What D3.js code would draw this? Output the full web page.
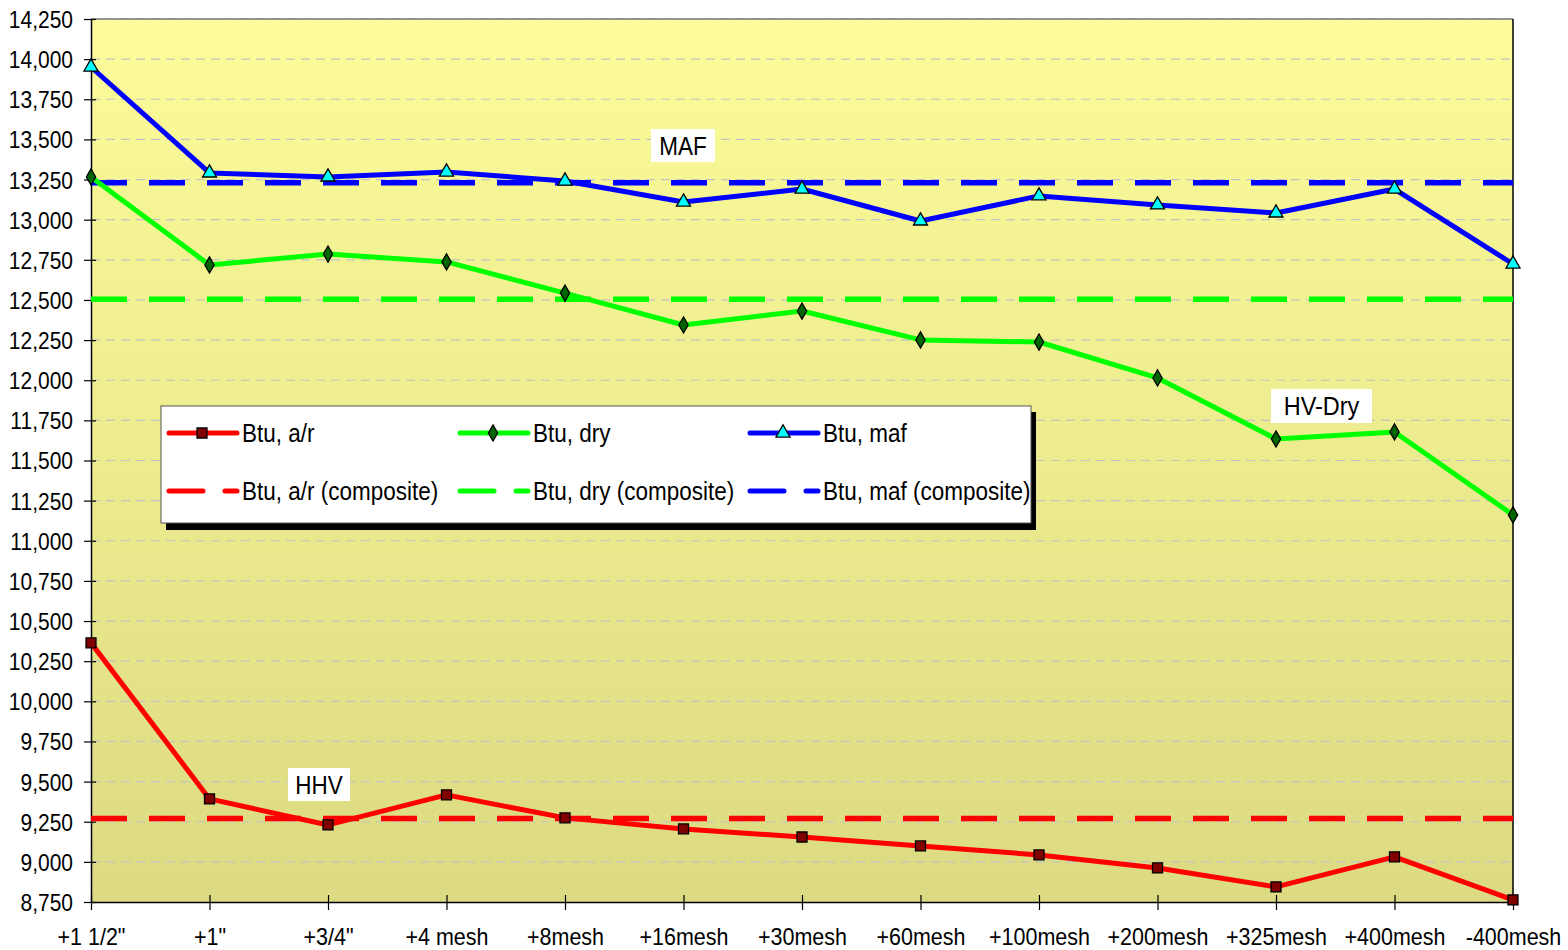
<!DOCTYPE html>
<html><head><meta charset="utf-8">
<script src="https://cdn.jsdelivr.net/npm/d3@7"></script>
<style>html,body{margin:0;padding:0;background:#fff;}svg{display:block;font-family:"Liberation Sans",Arial,sans-serif;}</style>
</head><body>
<svg id="c" width="1568" height="950"></svg>
<script>
const categories = ['+1 1/2"','+1"','+3/4"','+4 mesh','+8mesh','+16mesh','+30mesh','+60mesh','+100mesh','+200mesh','+325mesh','+400mesh','-400mesh'];
const btuAr  = [10364, 9392, 9230, 9417, 9274, 9205, 9155, 9099, 9043, 8962, 8844, 9031, 8763];
const btuDry = [13266, 12718, 12786, 12737, 12543, 12344, 12431, 12251, 12238, 12014, 11634, 11678, 11161];
const btuMaf = [13951, 13291, 13266, 13297, 13241, 13110, 13191, 12992, 13148, 13092, 13042, 13191, 12724];
const btuArComp  = [9270, 9270, 9270, 9270, 9270, 9270, 9270, 9270, 9270, 9270, 9270, 9270, 9270];
const btuDryComp = [12505, 12505, 12505, 12505, 12505, 12505, 12505, 12505, 12505, 12505, 12505, 12505, 12505];
const btuMafComp = [13230, 13230, 13230, 13230, 13230, 13230, 13230, 13230, 13230, 13230, 13230, 13230, 13230];
const yTicks = d3.range(8750, 14251, 250);
const seriesNames = ["Btu, a/r","Btu, dry","Btu, maf","Btu, a/r (composite)","Btu, dry (composite)","Btu, maf (composite)"];

const L = 91, R = 1513, T = 19, B = 902;
const SY = 1.12; // vertical stretch of the text
const svg = d3.select("#c");
const x = d3.scalePoint().domain(categories).range([L, R]).padding(0);
const y = d3.scaleLinear().domain([8750, 14250]).range([B, T]);

// background gradient
const defs = svg.append("defs");
const g = defs.append("linearGradient").attr("id","bg").attr("x1",0).attr("y1",0).attr("x2",0).attr("y2",1);
g.append("stop").attr("offset","0%").attr("stop-color","#fcfc9a");
g.append("stop").attr("offset","100%").attr("stop-color","#dcda82");
svg.append("rect").attr("x",L).attr("y",T).attr("width",R-L).attr("height",B-T).attr("fill","url(#bg)");

// gridlines
svg.append("g").selectAll("line").data(yTicks.slice(1)).join("line")
  .attr("x1",L).attr("x2",R).attr("y1",d=>y(d)).attr("y2",d=>y(d))
  .attr("stroke","#c4c4c4").attr("stroke-width",1.2).attr("stroke-dasharray","9,6");

// frame
svg.append("line").attr("x1",L).attr("x2",R).attr("y1",T).attr("y2",T).attr("stroke","#777").attr("stroke-width",1.5);
svg.append("line").attr("x1",R).attr("x2",R).attr("y1",T).attr("y2",B).attr("stroke","#000").attr("stroke-width",1.5);

// axes
const yAxis = svg.append("g").attr("transform",`translate(${L},0)`)
  .call(d3.axisLeft(y).tickValues(yTicks).tickFormat(d3.format(",")).tickSize(7).tickSizeOuter(0));
yAxis.select(".domain").attr("stroke","#000").attr("stroke-width",1.5);
yAxis.selectAll(".tick line").attr("stroke","#000").attr("stroke-width",1.2).attr("x2",5).attr("x1",-7);
yAxis.selectAll(".tick text").attr("font-size",21).attr("fill","#000").attr("x",0).attr("y",0).attr("dy","0.36em")
  .attr("transform",`translate(-18,0) scale(1,${SY})`)
  .attr("font-family","Liberation Sans, Arial, sans-serif");

const xAxis = svg.append("g").attr("transform",`translate(0,${B})`)
  .call(d3.axisBottom(x).tickSize(8).tickSizeOuter(0));
xAxis.select(".domain").attr("stroke","#000").attr("stroke-width",1.5);
xAxis.selectAll(".tick line").attr("stroke","#000").attr("stroke-width",1.2).attr("y1",-7).attr("y2",8);
xAxis.selectAll(".tick text").attr("font-size",21.5).attr("fill","#000").attr("y",0).attr("dy","0.71em")
  .attr("transform",`translate(0,26) scale(1,${SY})`)
  .attr("font-family","Liberation Sans, Arial, sans-serif");

const line = d3.line().x((d,i)=>x(categories[i])).y(d=>y(d));
const plot = svg.append("g");
function dashed(vals, color){
  plot.append("path").attr("d",line(vals)).attr("fill","none").attr("stroke",color)
    .attr("stroke-width",5.5).attr("stroke-dasharray","36,22");
}
function solid(vals, color){
  plot.append("path").attr("d",line(vals)).attr("fill","none").attr("stroke",color)
    .attr("stroke-width",5).attr("stroke-linejoin","round");
}
dashed(btuMafComp,"#0000ff");
dashed(btuDryComp,"#00ff00");
dashed(btuArComp,"#ff0000");
solid(btuMaf,"#0000ff");
solid(btuDry,"#00ff00");
solid(btuAr,"#ff0000");

const sq = d3.symbol().type(d3.symbolSquare).size(100);
const dia = d3.symbol().type(d3.symbolDiamond).size(75);
const tri = d3.symbol().type(d3.symbolTriangle).size(85);
function markers(vals, sym, fill){
  plot.append("g").selectAll("path").data(vals).join("path")
    .attr("d",sym).attr("transform",(d,i)=>`translate(${x(categories[i])},${y(d)})`)
    .attr("fill",fill).attr("stroke","#000").attr("stroke-width",1.3);
}
markers(btuMaf, tri, "#00ffff");
markers(btuDry, dia, "#006400");
markers(btuAr, sq, "#800000");

function stretchedText(parent, txt, tx, ty, size, anchor){
  return parent.append("text").attr("transform",`translate(${tx},${ty}) scale(1,${SY})`)
    .attr("dy","0.36em").attr("text-anchor",anchor).attr("font-size",size).attr("fill","#000").text(txt);
}
// text labels
function label(txt, bx, by, bw, bh, size){
  svg.append("rect").attr("x",bx).attr("y",by).attr("width",bw).attr("height",bh).attr("fill","#fff");
  stretchedText(svg, txt, bx+bw/2, by+bh/2, size, "middle");
}
label("MAF", 651, 129, 64, 33, 22.5);
label("HHV", 288, 768, 62, 33, 22.5);
label("HV-Dry", 1271, 389, 101, 34, 23.5);

// legend
const lg = svg.append("g");
lg.append("rect").attr("x",166).attr("y",412).attr("width",870).attr("height",118).attr("fill","#000");
lg.append("rect").attr("x",161).attr("y",406).attr("width",870).attr("height",117).attr("fill","#fff").attr("stroke","#555").attr("stroke-width",1);
const cols = [167, 458, 748];
const rows = [433, 491];
const colors = ["#ff0000","#00ff00","#0000ff"];
const syms = [sq, dia, tri];
const fills = ["#800000","#006400","#00ffff"];
seriesNames.forEach((nm, k)=>{
  const c = k % 3, r = Math.floor(k/3);
  const x0 = cols[c], yy = rows[r];
  const ln = lg.append("line").attr("x1",x0+2).attr("x2",x0+70).attr("y1",yy).attr("y2",yy)
    .attr("stroke",colors[c]).attr("stroke-width",5).attr("stroke-linecap","round");
  if (r===1) ln.attr("stroke-dasharray","34,22");
  if (r===0) lg.append("path").attr("d",syms[c]).attr("transform",`translate(${x0+35},${yy})`)
    .attr("fill",fills[c]).attr("stroke","#000").attr("stroke-width",1.3);
  stretchedText(lg, nm, x0+75, yy, 22.5, "start");
});
</script>
</body></html>
